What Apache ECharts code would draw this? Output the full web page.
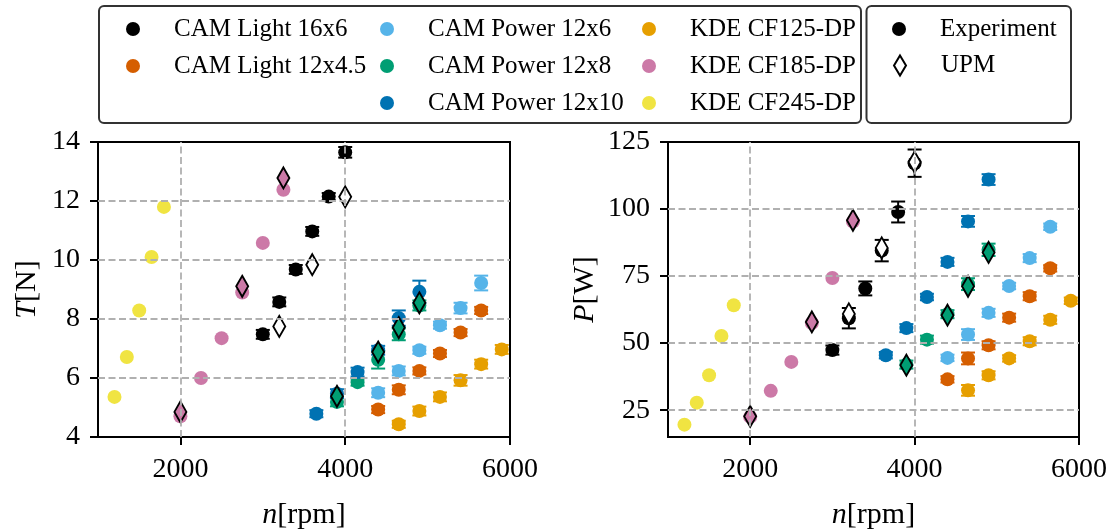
<!DOCTYPE html>
<html><head><meta charset="utf-8">
<script src="https://cdn.jsdelivr.net/npm/echarts@6/dist/echarts.min.js"></script>
<style>html,body{margin:0;padding:0;background:#fff}#c{width:1115px;height:529px}</style>
</head><body><div id="c"></div>
<script>
const FONT = '"Liberation Serif", "DejaVu Serif", serif';

// ---- tick labels ----
const xTicks = [2000, 4000, 6000];
const tTicks = [4, 6, 8, 10, 12, 14];
const pTicks = [25, 50, 75, 100, 125];

// ---- CAM Light 16x6 ----
const rpmL16x6 = [3000, 3200, 3400, 3600, 3800, 4000];
const tL16x6 = [7.48, 8.58, 9.68, 10.97, 12.15, 13.65];
const tErrL16x6 = [0.15, 0.15, 0.15, 0.15, 0.12, 0.18];
const pL16x6 = [47.4, 59.3, 70.4, 84.5, 98.9, 117.1];
const pErrL16x6 = [1.7, 3.8, 2.6, 4.0, 3.9, 5.1];

// ---- CAM Light 12x4.5 ----
const rpmL12x45 = [4400, 4650, 4900, 5150, 5400, 5650];
const tL12x45 = [4.93, 5.60, 6.24, 6.83, 7.54, 8.29];
const tErrL12x45 = [0.12, 0.15, 0.12, 0.12, 0.12, 0.12];
const pL12x45 = [36.5, 44.3, 49.2, 59.5, 67.5, 77.9];
const pErrL12x45 = [1.2, 2.2, 1.5, 1.5, 1.5, 1.2];

// ---- CAM Power 12x6 ----
const rpmP12x6 = [4400, 4650, 4900, 5150, 5400, 5650];
const tP12x6 = [5.50, 6.24, 6.94, 7.79, 8.37, 9.22];
const tErrP12x6 = [0.15, 0.15, 0.12, 0.12, 0.18, 0.25];
const pP12x6 = [44.5, 53.2, 61.3, 71.3, 81.7, 93.4];
const pErrP12x6 = [1.2, 2.0, 1.5, 1.2, 1.5, 1.2];

// ---- CAM Power 12x8 ----
const rpmP12x8 = [3900, 4150, 4400, 4650, 4900];
const tP12x8 = [5.19, 5.86, 6.62, 7.48, 8.46];
const tErrP12x8 = [0.15, 0.12, 0.30, 0.20, 0.17];
const pP12x8 = [42.0, 51.3, 60.8, 72.0, 84.8];
const pErrP12x8 = [1.5, 1.5, 1.5, 2.2, 2.3];

// ---- CAM Power 12x10 ----
const rpmP12x10 = [3650, 3900, 4150, 4400, 4650, 4900];
const tP12x10 = [4.79, 5.47, 6.20, 6.94, 8.03, 8.92];
const tErrP12x10 = [0.12, 0.15, 0.15, 0.15, 0.26, 0.38];
const pP12x10 = [45.5, 55.6, 67.2, 80.3, 95.4, 111.0];
const pErrP12x10 = [1.2, 1.5, 1.2, 1.5, 2.0, 2.0];

// ---- KDE CF125-DP ----
const rpmCF125 = [4650, 4900, 5150, 5400, 5650, 5900];
const tCF125 = [4.43, 4.88, 5.36, 5.92, 6.47, 6.97];
const tErrCF125 = [0.12, 0.15, 0.15, 0.18, 0.15, 0.15];
const pCF125 = [32.4, 38.0, 44.3, 50.7, 58.7, 65.8];
const pErrCF125 = [2.0, 1.5, 1.2, 1.5, 1.5, 1.2];

// ---- KDE CF185-DP ----
const rpmCF185 = [2000, 2250, 2500, 2750, 3000, 3250];
const tCF185 = [4.70, 6.00, 7.35, 8.90, 10.58, 12.38];
const pCF185 = [22.5, 32.2, 43.0, 57.5, 74.3, 95.3];

// ---- KDE CF245-DP ----
const rpmCF245 = [1200, 1350, 1500, 1650, 1800];
const tCF245 = [5.36, 6.71, 8.29, 10.10, 11.80];
const pCF245 = [19.6, 27.8, 38.0, 52.7, 64.1];

// ---- UPM predictions ----
const upmRpmL16x6 = [3200, 3600, 4000];
const upmTL16x6 = [7.75, 9.84, 12.14];
const upmPL16x6 = [60.9, 85.5, 117.5];
const upmRpmP12x8 = [3900, 4400, 4650, 4900];
const upmTP12x8 = [5.38, 6.88, 7.71, 8.55];
const upmPP12x8 = [41.8, 60.4, 71.2, 83.8];
const upmRpmCF185 = [2000, 2750, 3250];
const upmTCF185 = [4.85, 9.11, 12.78];
const upmPCF185 = [22.7, 57.9, 95.8];

const products = [
  {name: 'CAM Light 16x6', color: '#000000', rpm: rpmL16x6, t: tL16x6, te: tErrL16x6, p: pL16x6, pe: pErrL16x6},
  {name: 'CAM Light 12x4.5', color: '#D55E00', rpm: rpmL12x45, t: tL12x45, te: tErrL12x45, p: pL12x45, pe: pErrL12x45},
  {name: 'CAM Power 12x6', color: '#56B4E9', rpm: rpmP12x6, t: tP12x6, te: tErrP12x6, p: pP12x6, pe: pErrP12x6},
  {name: 'CAM Power 12x8', color: '#009E73', rpm: rpmP12x8, t: tP12x8, te: tErrP12x8, p: pP12x8, pe: pErrP12x8},
  {name: 'CAM Power 12x10', color: '#0072B2', rpm: rpmP12x10, t: tP12x10, te: tErrP12x10, p: pP12x10, pe: pErrP12x10},
  {name: 'KDE CF125-DP', color: '#E69F00', rpm: rpmCF125, t: tCF125, te: tErrCF125, p: pCF125, pe: pErrCF125},
  {name: 'KDE CF185-DP', color: '#CC79A7', rpm: rpmCF185, t: tCF185, te: null, p: pCF185, pe: null},
  {name: 'KDE CF245-DP', color: '#F0E442', rpm: rpmCF245, t: tCF245, te: null, p: pCF245, pe: null}
];
const upms = [
  {fill: '#ffffff', rpm: upmRpmL16x6, t: upmTL16x6, p: upmPL16x6},
  {fill: '#009E73', rpm: upmRpmP12x8, t: upmTP12x8, p: upmPP12x8},
  {fill: '#CC79A7', rpm: upmRpmCF185, t: upmTCF185, p: upmPCF185}
];

const DIAMOND = 'path://M0,-10L6,0L0,10L-6,0Z';

function errRender(color) {
  return function (params, api) {
    const x = api.value(0), y = api.value(1), e = api.value(2);
    const a = api.coord([x, y + e]), b = api.coord([x, y - e]);
    const hw = 7;
    const st = {stroke: color, lineWidth: 2};
    return {type: 'group', children: [
      {type: 'line', shape: {x1: a[0], y1: a[1], x2: b[0], y2: b[1]}, style: st},
      {type: 'line', shape: {x1: a[0] - hw, y1: a[1], x2: a[0] + hw, y2: a[1]}, style: st},
      {type: 'line', shape: {x1: b[0] - hw, y1: b[1], x2: b[0] + hw, y2: b[1]}, style: st}
    ]};
  };
}

function gridLines(idx, xs, ys) {
  return {type: 'line', xAxisIndex: idx, yAxisIndex: idx, data: [], z: 0, silent: true,
    markLine: {silent: true, symbol: ['none', 'none'], label: {show: false}, animation: false,
      lineStyle: {color: '#b0b0b0', width: 1.8, type: [7, 3.5]},
      emphasis: {disabled: true},
      data: xs.map(v => ({xAxis: v})).concat(ys.map(v => ({yAxis: v})))}};
}

const series = [];
series.push(gridLines(0, xTicks.slice(0, -1), tTicks.slice(1, -1)));
series.push(gridLines(1, xTicks.slice(0, -1), pTicks.slice(0, -1)));

[0, 1].forEach(gi => {
  products.forEach(pr => {
    const ys = gi === 0 ? pr.t : pr.p;
    series.push({
      type: 'scatter', name: pr.name, xAxisIndex: gi, yAxisIndex: gi, z: 2,
      symbol: 'circle', symbolSize: 14,
      itemStyle: {color: pr.color, opacity: 1},
      emphasis: {disabled: true},
      data: pr.rpm.map((r, i) => [r, ys[i]])
    });
  });
});
[0, 1].forEach(gi => {
  products.forEach(pr => {
    const ys = gi === 0 ? pr.t : pr.p;
    const es = gi === 0 ? pr.te : pr.pe;
    if (!es) return;
    series.push({
      type: 'custom', name: pr.name, xAxisIndex: gi, yAxisIndex: gi, z: 1,
      itemStyle: {color: pr.color},
      renderItem: errRender(pr.color),
      encode: {x: 0, y: 1},
      data: pr.rpm.map((r, i) => [r, ys[i], es[i]])
    });
  });
});
[0, 1].forEach(gi => {
  upms.forEach(u => {
    const ys = gi === 0 ? u.t : u.p;
    series.push({
      type: 'scatter', name: 'UPM', xAxisIndex: gi, yAxisIndex: gi, z: 3,
      symbol: DIAMOND, symbolSize: [12, 21],
      itemStyle: {color: u.fill, borderColor: '#000', borderWidth: 2, opacity: 1},
      emphasis: {disabled: true},
      data: u.rpm.map((r, i) => [r, ys[i]])
    });
  });
});
series.push({type: 'scatter', name: 'Experiment', xAxisIndex: 0, yAxisIndex: 0, data: [],
  itemStyle: {color: '#000000', opacity: 1}});

const tickFont = {fontFamily: FONT, fontSize: 28, color: '#000'};
function xAxis(gi) {
  return {
    type: 'value', gridIndex: gi, min: 1000, max: 6000,
    axisLine: {show: true, onZero: false, lineStyle: {color: '#000', width: 2}},
    axisTick: {show: true, length: 8, lineStyle: {color: '#000', width: 2}, customValues: xTicks},
    axisLabel: Object.assign({customValues: xTicks, margin: 19, formatter: v => String(v)}, tickFont),
    splitLine: {show: false},
    name: '{i|n}{r|[rpm]}', nameLocation: 'middle', nameGap: 63,
    nameTextStyle: {rich: {
      i: {fontFamily: FONT, fontSize: 30, fontStyle: 'italic', color: '#000'},
      r: {fontFamily: FONT, fontSize: 30, color: '#000'}}}
  };
}
function yAxis(gi, min, max, ticks, nm, gap) {
  return {
    type: 'value', gridIndex: gi, min: min, max: max,
    axisLine: {show: true, onZero: false, lineStyle: {color: '#000', width: 2}},
    axisTick: {show: true, length: 8, lineStyle: {color: '#000', width: 2}, customValues: ticks},
    axisLabel: Object.assign({customValues: ticks, margin: 18, formatter: v => String(v)}, tickFont),
    splitLine: {show: false},
    name: '{i|' + nm[0] + '}{r|' + nm[1] + '}', nameLocation: 'middle', nameGap: gap,
    nameTextStyle: {rich: {
      i: {fontFamily: FONT, fontSize: 30, fontStyle: 'italic', color: '#000'},
      r: {fontFamily: FONT, fontSize: 30, color: '#000'}}}
  };
}

const legText = {fontFamily: FONT, fontSize: 25, color: '#000', lineHeight: 25};
// legend "left" is the left edge of the marker; marker centres at 133, 387, 649, 899
function legend(names, left, top, opts) {
  return Object.assign({
    orient: 'vertical', left: left, top: top, padding: 0,
    itemWidth: 72, itemHeight: 14, itemGap: 12, selectedMode: false,
    textStyle: legText, itemStyle: {borderWidth: 0},
    data: names.map(n => ({name: n, icon: 'circle'}))
  }, opts || {});
}

const gridBase = {show: true, borderColor: '#000', borderWidth: 2, backgroundColor: 'transparent',
  outerBoundsMode: 'none', containLabel: false};

const option = {
  animation: false,
  backgroundColor: '#ffffff',
  textStyle: {fontFamily: FONT},
  grid: [
    Object.assign({left: 98, top: 142, width: 412, height: 295}, gridBase),
    Object.assign({left: 668, top: 142, width: 411, height: 295}, gridBase)
  ],
  xAxis: [xAxis(0), xAxis(1)],
  yAxis: [
    yAxis(0, 4, 14, tTicks, ['T', '[N]'], 56),
    yAxis(1, 15, 125, pTicks, ['P', '[W]'], 68)
  ],
  legend: [
    legend([products[0].name, products[1].name], 126, 16.5),
    legend([products[2].name, products[3].name, products[4].name], 380, 16.5),
    legend([products[5].name, products[6].name, products[7].name], 642, 16.5),
    legend(['Experiment'], 892, 16.5),
    {
      orient: 'vertical', left: 893, top: 53, padding: 0,
      itemWidth: 72, itemHeight: 20, selectedMode: false, textStyle: legText,
      data: [{name: 'UPM', icon: DIAMOND, itemStyle: {color: '#ffffff', borderColor: '#000', borderWidth: 2}}]
    }
  ],
  graphic: [
    {type: 'rect', z: 10, shape: {x: 99, y: 6, width: 762, height: 117, r: 5}, style: {fill: 'none', stroke: '#333', lineWidth: 2}},
    {type: 'rect', z: 10, shape: {x: 866.5, y: 6, width: 204.5, height: 117, r: 5}, style: {fill: 'none', stroke: '#333', lineWidth: 2}}
  ],
  series: series
};

const chart = echarts.init(document.getElementById('c'), null, {renderer: 'canvas'});
chart.setOption(option);
</script>
</body></html>
